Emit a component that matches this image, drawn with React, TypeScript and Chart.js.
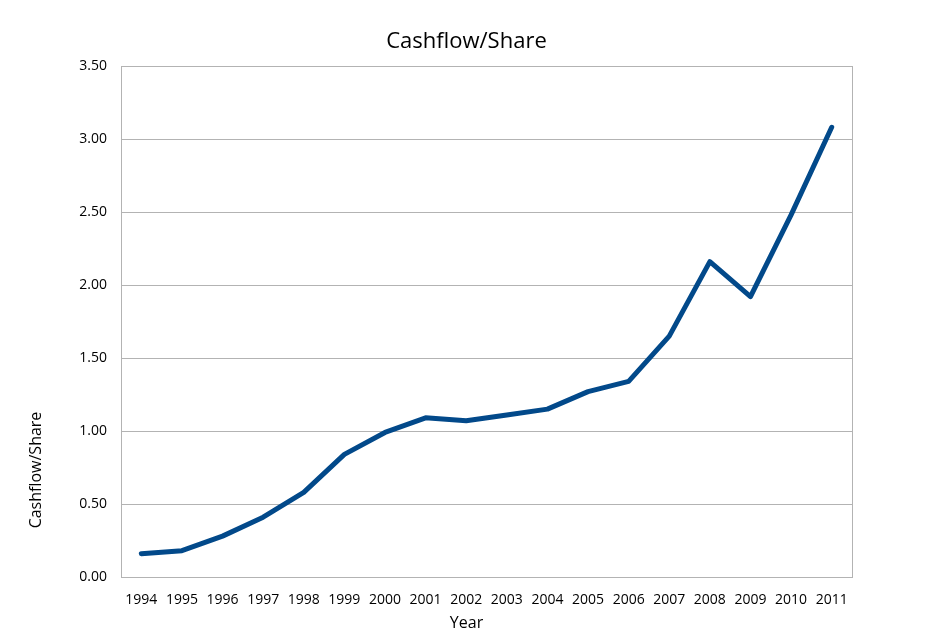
import { useEffect, useRef } from 'react';
import { Chart, Plugin, registerables } from 'chart.js';

Chart.register(...registerables);

const years = [
  '1994', '1995', '1996', '1997', '1998', '1999', '2000', '2001', '2002',
  '2003', '2004', '2005', '2006', '2007', '2008', '2009', '2010', '2011',
];
const cashflowPerShare = [
  0.16, 0.18, 0.28, 0.41, 0.58, 0.84, 0.99, 1.09, 1.07,
  1.11, 1.15, 1.27, 1.34, 1.65, 2.16, 1.92, 2.48, 3.08,
];
const yMin = 0;
const yMax = 3.5;
const yStep = 0.5;

const chartTitle = 'Cashflow/Share';
const xTitle = 'Year';
const yTitle = 'Cashflow/Share';

const FONT = '"Open Sans", sans-serif';
const GRID = '#b3b3b3';

// right edge of the plot box, the chart title and the two axis titles (placed like Excel does)
const framePlugin: Plugin<'line'> = {
  id: 'frame',
  beforeDatasetsDraw(chart) {
    const { ctx, chartArea } = chart;
    ctx.save();
    ctx.strokeStyle = GRID;
    ctx.lineWidth = 1;
    ctx.beginPath();
    ctx.moveTo(chartArea.right + 0.5, chartArea.top);
    ctx.lineTo(chartArea.right + 0.5, chartArea.bottom);
    ctx.stroke();
    ctx.restore();
  },
  afterDraw(chart) {
    const { ctx, chartArea, width } = chart;
    ctx.save();
    ctx.fillStyle = '#000';
    ctx.textAlign = 'center';
    ctx.textBaseline = 'middle';
    ctx.font = `22px ${FONT}`;
    ctx.fillText(chartTitle, width / 2, chartArea.top - 24);
    ctx.font = `16px ${FONT}`;
    ctx.fillText(xTitle, (chartArea.left + chartArea.right) / 2 - 20, chartArea.bottom + 46);
    ctx.translate(36, chartArea.bottom - 107);
    ctx.rotate(-Math.PI / 2);
    ctx.fillText(yTitle, 0, 0);
    ctx.restore();
  },
};

const App = () => {
  const chartRef = useRef<HTMLCanvasElement>(null);
  const chartInstanceRef = useRef<Chart | null>(null);

  useEffect(() => {
    if (chartRef.current) {
      if (chartInstanceRef.current) chartInstanceRef.current.destroy();
      chartInstanceRef.current = new Chart(chartRef.current, {
        type: 'line',
        data: {
          labels: years,
          datasets: [
            {
              label: chartTitle,
              data: cashflowPerShare,
              borderColor: '#02498a',
              borderWidth: 5,
              borderCapStyle: 'round',
              borderJoinStyle: 'round',
              pointRadius: 0,
              tension: 0,
              fill: false,
            },
          ],
        },
        options: {
          animation: false,
          responsive: true,
          maintainAspectRatio: false,
          layout: { padding: { top: 66, right: 81, bottom: 0, left: 0 } },
          plugins: {
            legend: { display: false },
            tooltip: { enabled: false },
            title: { display: false },
          },
          scales: {
            x: {
              offset: true,
              grid: { display: false },
              border: { display: true, color: GRID },
              ticks: {
                color: '#000',
                font: { family: FONT, size: 14 },
                padding: 7,
                maxRotation: 0,
                autoSkip: false,
              },
              afterFit: (scale) => {
                scale.height = 64;
              },
            },
            y: {
              min: yMin,
              max: yMax,
              grid: { color: GRID, drawTicks: false },
              border: { display: true, color: GRID },
              ticks: {
                stepSize: yStep,
                color: '#000',
                font: { family: FONT, size: 14 },
                padding: 14,
                callback: (v) => Number(v).toFixed(2),
              },
              afterFit: (scale) => {
                scale.width = 121;
              },
            },
          },
        },
        plugins: [framePlugin],
      });
    }

    return () => {
      if (chartInstanceRef.current) chartInstanceRef.current.destroy();
    };
  }, []);

  return (
    <div style={{ position: 'absolute', left: 0, top: 0, width: 933, height: 641, background: '#fff' }}>
      <canvas ref={chartRef} />
    </div>
  );
};

export default App;
